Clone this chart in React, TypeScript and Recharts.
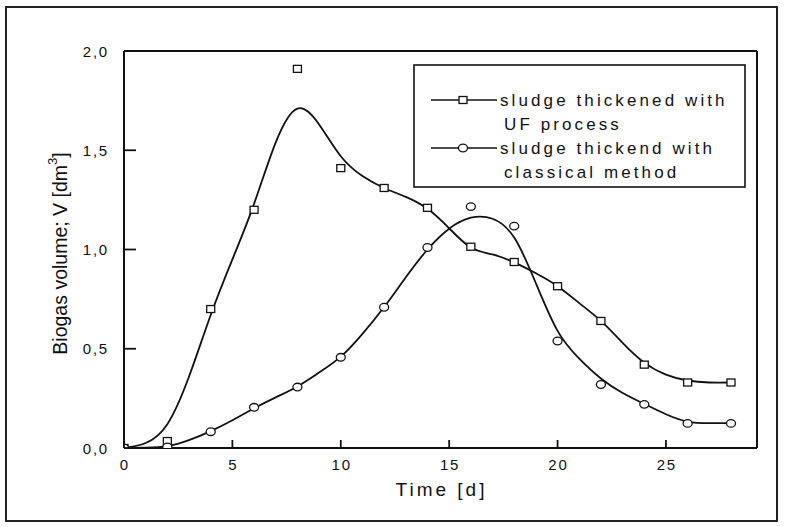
import React from 'react';
import { ComposedChart, Line, Scatter, XAxis, YAxis, ReferenceLine, Legend } from 'recharts';

// Measured points (days)
const measuredDays = [0, 2, 4, 6, 8, 10, 12, 14, 16, 18, 20, 22, 24, 26, 28];
const ufMeasured = [0, 0.035, 0.7, 1.2, 1.91, 1.41, 1.31, 1.21, 1.014, 0.937, 0.815, 0.64, 0.42, 0.33, 0.33];
const classicalMeasured = [0, 0.005, 0.082, 0.205, 0.307, 0.457, 0.709, 1.01, 1.216, 1.118, 0.539, 0.32, 0.22, 0.124, 0.124];

// Fitted curves
const fitDays = [0, 1, 2, 3, 4, 5, 6, 7, 8, 9, 10, 11, 12, 13, 14, 15, 16, 17, 18, 19, 20, 21, 22, 23, 24, 25, 26, 27, 28];
const ufFit = [0, 0.025, 0.12, 0.36, 0.67, 0.95, 1.23, 1.54, 1.71, 1.63, 1.47, 1.37, 1.31, 1.265, 1.205, 1.107, 1.01, 0.975, 0.935, 0.88, 0.815, 0.73, 0.64, 0.53, 0.43, 0.37, 0.34, 0.33, 0.33];
const classicalFit = [0, 0.002, 0.01, 0.04, 0.085, 0.14, 0.2, 0.255, 0.31, 0.38, 0.46, 0.575, 0.71, 0.86, 1.0, 1.105, 1.16, 1.155, 1.06, 0.83, 0.59, 0.45, 0.35, 0.277, 0.222, 0.17, 0.133, 0.125, 0.125];

const xTicks = [0, 5, 10, 15, 20, 25];
const yTicks = [0, 0.5, 1, 1.5, 2];
const X_MAX = 29.2;
const Y_MAX = 2;

const legendLabels = [
  ['sludge thickened with', 'UF process'],
  ['sludge thickend with', 'classical method'],
];

const FONT = '"Liberation Sans", Arial, sans-serif';

const ufPoints = measuredDays.map((d, i) => ({ x: d, y: ufMeasured[i] }));
const classicalPoints = measuredDays.map((d, i) => ({ x: d, y: classicalMeasured[i] }));
const ufCurve = fitDays.map((d, i) => ({ x: d, y: ufFit[i] }));
const classicalCurve = fitDays.map((d, i) => ({ x: d, y: classicalFit[i] }));

const fmt = (v: number) => v.toFixed(1).replace('.', ',');

const Square = (props: any) => {
  const { cx, cy } = props;
  if (cx == null || cy == null) return null;
  return <rect x={cx - 4} y={cy - 3.5} width={8} height={7} fill="#fff" stroke="#111" strokeWidth={1.3} />;
};
const Circle = (props: any) => {
  const { cx, cy } = props;
  if (cx == null || cy == null) return null;
  return <ellipse cx={cx} cy={cy} rx={4.5} ry={3.8} fill="#fff" stroke="#111" strokeWidth={1.3} />;
};

const Y_TICK_MARGIN = 15;
const YTick = (props: any) => {
  const { x, y, payload } = props;
  const axisX = x + Y_TICK_MARGIN;
  return (
    <g>
      <line x1={axisX} x2={axisX + 12} y1={y} y2={y} stroke="#111" strokeWidth={1.8} />
      <text x={x} y={y + 5.5} textAnchor="end" fontSize={15} fontFamily={FONT} fill="#111" style={{ letterSpacing: '1.8px' }}>
        {fmt(payload.value)}
      </text>
    </g>
  );
};

const XTick = (props: any) => {
  const { x, y, payload } = props;
  return (
    <g>
      <line x1={x} x2={x} y1={y} y2={y - 8} stroke="#111" strokeWidth={1.8} />
      <text x={x + 0.9} y={y + 22} textAnchor="middle" fontSize={15} fontFamily={FONT} fill="#111" style={{ letterSpacing: '1.8px' }}>
        {String(payload.value)}
      </text>
    </g>
  );
};

const renderLegend = () => {
  const rowY = [100, 148];
  return (
    <svg width={334} height={125} style={{ display: 'block' }}>
      <rect x={1} y={1} width={331} height={122} fill="#fff" stroke="#111" strokeWidth={1.6} />
      {legendLabels.map((lines, i) => {
        const cy = rowY[i] - 65 + 1;
        return (
          <g key={i}>
            <line x1={18} x2={84} y1={cy} y2={cy} stroke="#111" strokeWidth={1.6} />
            {i === 0 ? <Square cx={50} cy={cy} /> : <Circle cx={50} cy={cy} />}
            <text x={87} y={cy + 6} fontSize={17} fontFamily={FONT} fill="#111" style={{ letterSpacing: '3.1px' }}>
              {lines[0]}
            </text>
            <text x={91} y={cy + 30} fontSize={17} fontFamily={FONT} fill="#111" style={{ letterSpacing: '3.1px' }}>
              {lines[1]}
            </text>
          </g>
        );
      })}
    </svg>
  );
};

const XLabel = (props: any) => {
  const { viewBox } = props;
  return (
    <text x={viewBox.x + viewBox.width / 2 + 1} y={viewBox.y + 48} textAnchor="middle" fontSize={19} fontFamily={FONT} fill="#111" style={{ letterSpacing: '3px' }}>
      Time [d]
    </text>
  );
};

const YLabel = (props: any) => {
  const { viewBox } = props;
  const cx = viewBox.x - 4;
  const cy = viewBox.y + viewBox.height / 2 + 4;
  return (
    <text x={cx} y={cy} transform={`rotate(-90, ${cx}, ${cy})`} textAnchor="middle" dominantBaseline="central" fontSize={19.5} fontFamily={FONT} fill="#111">
      Biogas volume; V [dm<tspan dy={-8} fontSize={13}>3</tspan><tspan dy={8}>]</tspan>
    </text>
  );
};

export default function App() {
  return (
    <div style={{ position: 'absolute', left: 0, top: 0, width: 786, height: 527, background: '#fff' }}>
      <div style={{ position: 'absolute', left: 5, top: 6, width: 773, height: 516, border: '2px solid #222', boxSizing: 'border-box' }} />
      <div style={{ position: 'absolute', left: 0, top: 0 }}>
        <ComposedChart width={786} height={527} margin={{ top: 51, right: 29, bottom: 39, left: 64 }}>
          <XAxis
            type="number"
            dataKey="x"
            domain={[0, X_MAX]}
            ticks={xTicks}
            allowDataOverflow
            height={40}
            tickSize={0}
            tickMargin={0}
            tickLine={false}
            tick={<XTick />}
            axisLine={{ stroke: '#111', strokeWidth: 2 }}
            label={<XLabel />}
          />
          <YAxis
            type="number"
            dataKey="y"
            domain={[0, Y_MAX]}
            ticks={yTicks}
            allowDataOverflow
            width={60}
            tickSize={0}
            tickMargin={Y_TICK_MARGIN}
            tickLine={false}
            tick={<YTick />}
            axisLine={{ stroke: '#111', strokeWidth: 2 }}
            label={<YLabel />}
          />
          <ReferenceLine y={Y_MAX} stroke="#111" strokeWidth={2} />
          <ReferenceLine x={X_MAX} stroke="#111" strokeWidth={2} />
          <Line data={ufCurve} dataKey="y" type="natural" stroke="#111" strokeWidth={1.8} dot={false} isAnimationActive={false} legendType="none" />
          <Line data={classicalCurve} dataKey="y" type="natural" stroke="#111" strokeWidth={1.8} dot={false} isAnimationActive={false} legendType="none" />
          <Scatter data={ufPoints} dataKey="y" shape={<Square />} isAnimationActive={false} />
          <Scatter data={classicalPoints} dataKey="y" shape={<Circle />} isAnimationActive={false} />
          <Legend
            layout="vertical"
            align="center"
            verticalAlign="middle"
            content={renderLegend}
            wrapperStyle={{ position: 'absolute', left: 413, top: 64, width: 334, height: 125 }}
          />
        </ComposedChart>
      </div>
    </div>
  );
}
